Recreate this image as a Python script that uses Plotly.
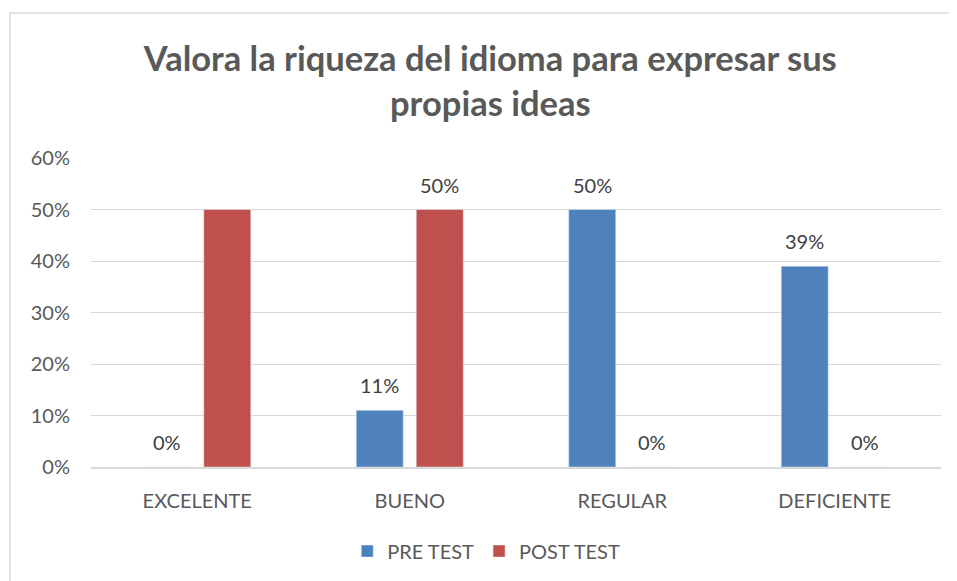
import plotly.graph_objects as go

categories = ["EXCELENTE", "BUENO", "REGULAR", "DEFICIENTE"]
pre_test = [0.00, 0.11, 0.50, 0.39]
post_test = [0.50, 0.50, 0.00, 0.00]
pre_labels = ["0%", "11%", "50%", "39%"]
post_labels = ["", "50%", "0%", "0%"]
y_ticks = [0, 0.1, 0.2, 0.3, 0.4, 0.5, 0.6]
y_tick_text = ["0%", "10%", "20%", "30%", "40%", "50%", "60%"]

FONT = "Lato, 'Open Sans', sans-serif"
GREY = "#595959"

fig = go.Figure()
fig.add_trace(go.Bar(name="PRE TEST", x=categories, y=pre_test, marker_color="#4F81BD"))
fig.add_trace(go.Bar(name="POST TEST", x=categories, y=post_test, marker_color="#C0504D"))

annotations = []
for series, labels, shift in ((pre_test, pre_labels, -30), (post_test, post_labels, 30)):
    for c, v, t in zip(categories, series, labels):
        if t:
            annotations.append(dict(x=c, y=v, text=t, xref="x", yref="y", showarrow=False,
                                    xshift=shift, yshift=25, yanchor="middle",
                                    font=dict(family=FONT, size=20, color="#404040")))

fig.update_layout(
    width=957, height=581,
    margin=dict(l=83, r=24, t=150, b=122),
    paper_bgcolor="white", plot_bgcolor="white",
    barmode="group", bargap=0.435, bargroupgap=0.217,
    title=dict(text="<b>Valora la riqueza del idioma para expresar sus<br>propias ideas</b>",
               x=0.504, xanchor="center", y=0.892, yanchor="top",
               font=dict(family=FONT, size=34.5, color=GREY)),
    font=dict(family=FONT, size=20, color=GREY),
    legend=dict(orientation="h", x=0.465, xanchor="center", y=-0.272, yanchor="middle",
                font=dict(family=FONT, size=20, color=GREY), itemwidth=30),
    annotations=annotations,
    shapes=[dict(type="rect", xref="paper", yref="paper", x0=-0.0953, x1=1.1, y0=-0.4, y1=1.469,
                 line=dict(color="#d9d9d9", width=1.5), fillcolor="rgba(0,0,0,0)", layer="below")],
)
fig.update_xaxes(showline=True, linecolor="#d9d9d9", linewidth=1.5, showgrid=False,
                 ticks="", ticklabelstandoff=15, tickfont=dict(family=FONT, size=20, color=GREY))
fig.update_yaxes(range=[0, 0.6], tickvals=y_ticks, ticktext=y_tick_text, showgrid=True,
                 gridcolor="#d9d9d9", gridwidth=1.2, zeroline=False, showline=False,
                 ticks="", ticklabelstandoff=20, tickfont=dict(family=FONT, size=20, color=GREY))

fig.write_html("out.html")
